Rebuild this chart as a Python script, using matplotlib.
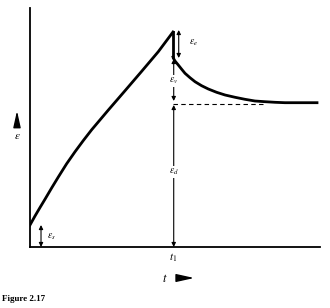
#!/usr/bin/env python
# Creep and recovery sketch (strain vs time), Figure 2.17

import matplotlib
matplotlib.use('Agg')
import matplotlib.pyplot as plt
from matplotlib.patches import FancyArrowPatch

# loading branch (t in units of t1)
load_t = [0.0, 0.035, 0.070, 0.105, 0.152, 0.198, 0.256, 0.315, 0.373, 0.431,
          0.548, 0.664, 0.781, 0.897, 1.0]
load_e = [0.22, 0.31, 0.395, 0.478, 0.592, 0.70, 0.832, 0.953, 1.065, 1.172,
          1.37, 1.562, 1.757, 1.953, 2.15]

# recovery branch after unloading at t1
rec_t = [1.0, 1.003, 1.014, 1.037, 1.061, 1.084, 1.119, 1.154, 1.2, 1.247, 1.305,
         1.364, 1.434, 1.503, 1.573, 1.643, 1.713, 1.783, 2.007]
rec_e = [1.90, 1.887, 1.86, 1.82, 1.777, 1.737, 1.693, 1.653, 1.613, 1.58, 1.547,
         1.52, 1.497, 1.477, 1.46, 1.453, 1.447, 1.443, 1.443]

t1 = 1.0
eps_s = 0.22
eps_peak = 2.15
eps_drop = 1.90
eps_d = 1.43
dash_end = 1.65

serif = 'Liberation Serif'
plt.rcParams['mathtext.fontset'] = 'stix'

fig = plt.figure(figsize=(3.3, 3.08), dpi=100)
ax = fig.add_axes([30 / 330, 61 / 308, 290 / 330, 239 / 308])
ax.set_xlim(0, 290 / 143)
ax.set_ylim(0, 2.39)
ax.set_xticks([])
ax.set_yticks([])
for side in ['top', 'right']:
    ax.spines[side].set_visible(False)
for side in ['left', 'bottom']:
    ax.spines[side].set_linewidth(1.3)

ax.plot(load_t, load_e, color='black', lw=2.0, solid_joinstyle='round')
ax.plot([t1, t1], [eps_peak, eps_drop], color='black', lw=2.0)
ax.plot(rec_t, rec_e, color='black', lw=2.0, solid_joinstyle='round')
ax.plot([t1, dash_end], [eps_d, eps_d], color='black', lw=0.8, ls=(0, (4, 3)))


def dim_arrow(x, y0, y1):
    ax.annotate('', xy=(x, y0), xytext=(x, y1),
                arrowprops=dict(arrowstyle='<|-|>', color='black', lw=0.8,
                                mutation_scale=6, shrinkA=0, shrinkB=0))


def label(x, y, s, ha='left', bg=False):
    kw = dict(fontsize=7, family=serif, ha=ha, va='center')
    if bg:
        kw['bbox'] = dict(facecolor='white', edgecolor='none', pad=0.6)
    ax.text(x, y, s, zorder=5, **kw)


dim_arrow(1.04, 2.17, 1.89)
label(1.11, 2.04, r'$\varepsilon_e$')

dim_arrow(t1 + 0.005, 1.88, 1.46)
label(t1 + 0.005, 1.66, r'$\varepsilon_v$', ha='center', bg=True)

dim_arrow(t1 + 0.005, 1.42, 0.0)
label(t1 + 0.005, 0.75, r'$\varepsilon_d$', ha='center', bg=True)

dim_arrow(0.077, eps_s, 0.0)
label(0.12, 0.10, r'$\varepsilon_s$')

# axis labels outside the axes
fig.text(173 / 330, 1 - 258 / 308, r'$t_1$', fontsize=8, ha='center', va='center')
fig.text(165 / 330, 1 - 278 / 308, r'$t$', fontsize=9, ha='center', va='center')
fig.add_artist(FancyArrowPatch(
    (175 / 330, 1 - 278 / 308), (197 / 330, 1 - 278 / 308), transform=fig.transFigure,
    arrowstyle='-|>,head_length=0.9,head_width=0.2', mutation_scale=12,
    color='black', lw=1.0))
fig.add_artist(FancyArrowPatch(
    (17 / 330, 1 - 127 / 308), (17 / 330, 1 - 108 / 308), transform=fig.transFigure,
    arrowstyle='-|>,head_length=0.9,head_width=0.2', mutation_scale=11,
    color='black', lw=1.0))
fig.text(17 / 330, 1 - 136 / 308, r'$\varepsilon$', fontsize=8, ha='center', va='center')

fig.text(2 / 330, 1 - 299 / 308, 'Figure 2.17', fontsize=6.5, family=serif,
         fontweight='bold', ha='left', va='center')

fig.savefig('out.png', dpi=100)
